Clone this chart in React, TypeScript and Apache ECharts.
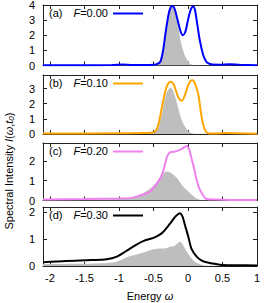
import React, { useEffect, useRef } from "react";
import * as echarts from "echarts";

// ---- data ----
const xTicks = [-2, -1.5, -1, -0.5, 0, 0.5, 1];

const aLineX = [-2.1, -1.5, -1.1, -0.95, -0.8, -0.6, -0.5, -0.45, -0.4, -0.36, -0.32, -0.28, -0.25, -0.22, -0.19, -0.15, -0.11, -0.077, -0.04, 0, 0.04, 0.077, 0.1, 0.126, 0.17, 0.22, 0.26, 0.29, 0.35, 0.45, 0.6, 0.75, 1.0];
const aLineY = [0.02, 0.02, 0.03, 0.06, 0.03, 0.03, 0.05, 0.09, 0.25, 1.0, 2.3, 3.4, 3.85, 3.94, 3.7, 3.0, 2.3, 2.0, 2.2, 3.0, 3.7, 3.9, 3.7, 3.0, 1.7, 0.7, 0.3, 0.15, 0.06, 0.05, 0.08, 0.05, 0.02];
const aGrayX = [-2.1, -1.0, -0.6, -0.5, -0.45, -0.4, -0.36, -0.32, -0.28, -0.25, -0.22, -0.19, -0.16, -0.126, -0.1, -0.07, -0.04, -0.01, 0.03, 0.08, 0.2, 1.0];
const aGrayY = [0.02, 0.03, 0.03, 0.05, 0.09, 0.24, 0.95, 2.2, 3.3, 3.78, 3.86, 3.6, 3.0, 2.15, 1.5, 1.0, 0.6, 0.36, 0.12, 0.04, 0.01, 0];

const bLineX = [-2.1, -1.0, -0.7, -0.55, -0.48, -0.43, -0.38, -0.33, -0.29, -0.25, -0.21, -0.17, -0.13, -0.09, -0.05, 0, 0.035, 0.068, 0.1, 0.15, 0.2, 0.246, 0.29, 0.4, 0.55, 0.7, 1.0];
const bLineY = [0.03, 0.05, 0.06, 0.08, 0.15, 0.6, 1.7, 2.8, 3.3, 3.45, 3.3, 2.8, 2.35, 2.2, 2.5, 3.2, 3.5, 3.55, 3.35, 2.6, 1.07, 0.27, 0.05, 0.03, 0.06, 0.05, 0.02];
const bGrayX = [-2.1, -1.0, -0.6, -0.5, -0.45, -0.41, -0.38, -0.32, -0.28, -0.25, -0.21, -0.16, -0.116, -0.08, -0.043, 0, 0.05, 0.15, 1.0];
const bGrayY = [0.03, 0.04, 0.06, 0.12, 0.27, 0.7, 1.27, 2.6, 2.95, 3.05, 2.8, 2.05, 1.27, 0.8, 0.5, 0.22, 0.07, 0.01, 0];

const cLineX = [-2.1, -1.5, -1.0, -0.84, -0.7, -0.55, -0.43, -0.36, -0.31, -0.27, -0.24, -0.17, -0.09, -0.02, 0.02, 0.05, 0.09, 0.126, 0.16, 0.2, 0.27, 0.4, 0.6, 1.0];
const cLineY = [0.05, 0.07, 0.1, 0.12, 0.25, 0.45, 0.95, 1.46, 2.14, 2.4, 2.45, 2.48, 2.6, 2.75, 2.55, 2.14, 1.6, 1.04, 0.65, 0.37, 0.08, 0.05, 0.03, 0.02];
const cGrayX = [-2.1, -1.5, -1.0, -0.84, -0.65, -0.55, -0.45, -0.38, -0.3, -0.23, -0.16, -0.07, 0.03, 0.126, 0.2, 1.0];
const cGrayY = [0.04, 0.05, 0.08, 0.12, 0.37, 0.6, 0.95, 1.3, 1.46, 1.35, 1.13, 0.7, 0.37, 0.1, 0.02, 0];

const dLineX = [-2.1, -1.76, -1.4, -1.18, -1.03, -0.9, -0.77, -0.65, -0.5, -0.42, -0.36, -0.26, -0.18, -0.116, -0.08, -0.043, 0.005, 0.05, 0.126, 0.2, 0.27, 0.46, 0.7, 1.0];
const dLineY = [0.14, 0.19, 0.22, 0.25, 0.35, 0.55, 0.76, 0.93, 1.05, 1.15, 1.27, 1.58, 1.85, 1.97, 1.85, 1.52, 1.09, 0.65, 0.35, 0.2, 0.14, 0.05, 0.03, 0.02];
const dGrayX = [-2.1, -1.6, -1.25, -1.03, -0.86, -0.74, -0.65, -0.55, -0.45, -0.38, -0.32, -0.26, -0.2, -0.15, -0.116, -0.08, -0.043, 0.03, 0.1, 0.2, 0.3, 1.0];
const dGrayY = [0.07, 0.08, 0.1, 0.16, 0.35, 0.43, 0.5, 0.59, 0.64, 0.65, 0.66, 0.72, 0.75, 0.85, 0.9, 0.82, 0.65, 0.35, 0.16, 0.05, 0.01, 0];

const panelTags = ["(a)", "(b)", "(c)", "(d)"];
const fieldLabels = ["0.00", "0.10", "0.20", "0.30"];
const yMaxes = [4, 3.9, 2.9, 2.2];
const yTickSets = [[0, 1, 2, 3, 4], [0, 1, 2, 3], [0, 1, 2], [0, 1, 2]];
const lineColors = ["#0000ff", "#ffa500", "#ee82ee", "#000000"];

const lineXs = [aLineX, bLineX, cLineX, dLineX];
const lineYs = [aLineY, bLineY, cLineY, dLineY];
const grayXs = [aGrayX, bGrayX, cGrayX, dGrayX];
const grayYs = [aGrayY, bGrayY, cGrayY, dGrayY];

// ---- layout ----
const FONT = "Liberation Sans, Arial, Helvetica, sans-serif";
const panelTops = [5, 75, 143, 207];
const panelHeights = [60.5, 59, 57.5, 59];
const GRID_LEFT = 43;
const GRID_RIGHT = 12;
const AXIS_COLOR = "#222";

const zip = (xs: number[], ys: number[]) => xs.map((x, i) => [x, ys[i]]);

export default function App() {
  const ref = useRef<HTMLDivElement>(null);
  useEffect(() => {
    if (!ref.current) return;
    const chart = echarts.init(ref.current, null, { renderer: "svg" });

    const grid: any[] = [];
    const xAxis: any[] = [];
    const yAxis: any[] = [];
    const series: any[] = [];
    const graphic: any[] = [];

    for (let p = 0; p < 4; p++) {
      grid.push({
        left: GRID_LEFT,
        right: GRID_RIGHT,
        top: panelTops[p],
        height: panelHeights[p],
        containLabel: false,
        outerBoundsMode: "none",
      });
      const isLast = p === 3;
      // bottom x axis
      xAxis.push({
        type: "value",
        gridIndex: p,
        position: "bottom",
        min: -2.1,
        max: 1,
        axisLine: { show: true, onZero: false, lineStyle: { color: AXIS_COLOR, width: 1 } },
        axisTick: { show: true, inside: true, length: 4, customValues: xTicks, lineStyle: { color: AXIS_COLOR } },
        axisLabel: {
          show: isLast,
          customValues: xTicks,
          margin: 6,
          fontFamily: FONT,
          fontSize: 11,
          color: "#000",
          formatter: (v: number) => String(v),
        },
        splitLine: { show: false },
      });
      // top mirror x axis
      xAxis.push({
        type: "value",
        gridIndex: p,
        position: "top",
        min: -2.1,
        max: 1,
        axisLine: { show: true, onZero: false, lineStyle: { color: AXIS_COLOR, width: 1 } },
        axisTick: { show: true, inside: true, length: 4, customValues: xTicks, lineStyle: { color: AXIS_COLOR } },
        axisLabel: { show: false },
        splitLine: { show: false },
      });
      yAxis.push({
        type: "value",
        gridIndex: p,
        position: "left",
        min: 0,
        max: yMaxes[p],
        axisLine: { show: true, onZero: false, lineStyle: { color: AXIS_COLOR, width: 1 } },
        axisTick: { show: true, inside: true, length: 4, customValues: yTickSets[p], lineStyle: { color: AXIS_COLOR } },
        axisLabel: {
          show: true,
          customValues: yTickSets[p],
          margin: 8,
          fontFamily: FONT,
          fontSize: 11,
          color: "#000",
        },
        splitLine: { show: false },
      });
      yAxis.push({
        type: "value",
        gridIndex: p,
        position: "right",
        min: 0,
        max: yMaxes[p],
        axisLine: { show: true, onZero: false, lineStyle: { color: AXIS_COLOR, width: 1 } },
        axisTick: { show: true, inside: true, length: 4, customValues: yTickSets[p], lineStyle: { color: AXIS_COLOR } },
        axisLabel: { show: false },
        splitLine: { show: false },
      });

      series.push({
        type: "line",
        xAxisIndex: p * 2,
        yAxisIndex: p * 2,
        data: zip(grayXs[p], grayYs[p]),
        showSymbol: false,
        smooth: 0.3,
        lineStyle: { width: 0, color: "#bebebe" },
        areaStyle: { color: "#bebebe", opacity: 1 },
        z: 1,
        silent: true,
      });
      series.push({
        type: "line",
        xAxisIndex: p * 2,
        yAxisIndex: p * 2,
        data: zip(lineXs[p], lineYs[p]),
        showSymbol: false,
        smooth: 0.3,
        lineStyle: { width: 2, color: lineColors[p] },
        itemStyle: { color: lineColors[p] },
        z: 3,
        silent: true,
      });

      const ly = panelTops[p] + 8;
      graphic.push({
        type: "text",
        x: 49,
        y: ly,
        style: {
          text: panelTags[p],
          fill: "#000",
          fontFamily: FONT,
          fontSize: 11,
          align: "left",
          verticalAlign: "middle",
        },
        z: 10,
      });
      graphic.push({
        type: "text",
        x: 108,
        y: ly,
        style: {
          text: "{i|F}=" + fieldLabels[p],
          fill: "#000",
          fontFamily: FONT,
          fontSize: 11,
          align: "right",
          verticalAlign: "middle",
          rich: {
            i: { fontStyle: "italic", fontFamily: FONT, fontSize: 11, fill: "#000" },
          },
        },
        z: 10,
      });
      graphic.push({
        type: "line",
        shape: { x1: 113, y1: ly + 0.5, x2: 143, y2: ly + 0.5 },
        style: { stroke: lineColors[p], lineWidth: 2 },
        z: 10,
      });
    }

    graphic.push({
      type: "text",
      x: 150,
      y: 296,
      style: {
        text: "Energy {i|ω}",
        fill: "#000",
        fontFamily: FONT,
        fontSize: 11,
        align: "center",
        verticalAlign: "middle",
        rich: { i: { fontStyle: "italic", fontFamily: FONT, fontSize: 11, fill: "#000" } },
      },
    });
    graphic.push({
      type: "text",
      x: 9,
      y: 171,
      rotation: Math.PI / 2,
      style: {
        text: "Spectral Intensity {i|I}({i|ω},{i|t}{s|0})",
        fill: "#000",
        fontFamily: FONT,
        fontSize: 11,
        lineHeight: 13,
        align: "center",
        verticalAlign: "middle",
        rich: {
          i: { fontStyle: "italic", fontFamily: FONT, fontSize: 11, fill: "#000", lineHeight: 13 },
          s: { fontStyle: "italic", fontFamily: FONT, fontSize: 8, fill: "#000", lineHeight: 8, verticalAlign: "bottom" },
        },
      },
    });

    chart.setOption({
      animation: false,
      backgroundColor: "#fff",
      grid,
      xAxis,
      yAxis,
      series,
      graphic,
    });
    return () => chart.dispose();
  }, []);
  return <div ref={ref} style={{ width: 269, height: 303, position: "absolute", left: 0, top: 0 }} />;
}
